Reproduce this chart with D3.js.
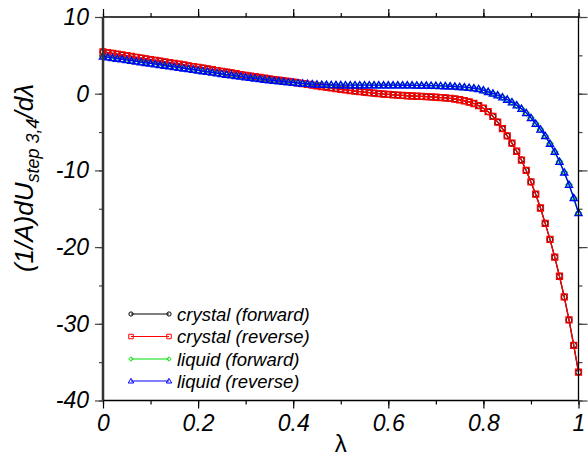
<!DOCTYPE html>
<html><head><meta charset="utf-8">
<script src="https://cdn.jsdelivr.net/npm/d3@7"></script>
<style>body{margin:0;background:#fff}svg{display:block}text{font-family:"Liberation Sans",Arial,sans-serif}</style>
</head><body><svg id="c" width="588" height="460"></svg>
<script>
const lambda = [0,0.01,0.02,0.03,0.04,0.05,0.06,0.07,0.08,0.09,0.1,0.11,0.12,0.13,0.14,0.15,0.16,0.17,0.18,0.19,0.2,0.21,0.22,0.23,0.24,0.25,0.26,0.27,0.28,0.29,0.3,0.31,0.32,0.33,0.34,0.35,0.36,0.37,0.38,0.39,0.4,0.41,0.42,0.43,0.44,0.45,0.46,0.47,0.48,0.49,0.5,0.51,0.52,0.53,0.54,0.55,0.56,0.57,0.58,0.59,0.6,0.61,0.62,0.63,0.64,0.65,0.66,0.67,0.68,0.69,0.7,0.71,0.72,0.73,0.74,0.75,0.76,0.77,0.78,0.79,0.8,0.81,0.82,0.83,0.84,0.85,0.86,0.87,0.88,0.89,0.9,0.91,0.92,0.93,0.94,0.95,0.96,0.97,0.98,0.99,1];
const crystalForward = [5.46,5.36,5.26,5.16,5.06,4.96,4.86,4.75,4.65,4.55,4.45,4.35,4.25,4.15,4.05,3.95,3.85,3.75,3.65,3.55,3.45,3.35,3.24,3.14,3.03,2.93,2.82,2.72,2.61,2.51,2.41,2.31,2.21,2.11,2.02,1.93,1.84,1.76,1.68,1.60,1.52,1.42,1.32,1.22,1.12,1.03,0.94,0.85,0.76,0.67,0.58,0.50,0.42,0.34,0.27,0.20,0.13,0.07,0.01,-0.05,-0.10,-0.15,-0.19,-0.23,-0.27,-0.30,-0.33,-0.36,-0.39,-0.42,-0.46,-0.50,-0.55,-0.61,-0.69,-0.79,-0.92,-1.08,-1.28,-1.55,-1.90,-2.35,-2.95,-3.70,-4.55,-5.50,-6.45,-7.50,-8.65,-10.0,-11.5,-13.1,-14.9,-16.9,-19.0,-21.3,-23.8,-26.5,-29.5,-32.8,-36.3];
const crystalReverse = [5.45,5.35,5.25,5.15,5.05,4.95,4.85,4.74,4.64,4.54,4.44,4.34,4.24,4.14,4.04,3.94,3.84,3.74,3.64,3.54,3.44,3.34,3.23,3.13,3.02,2.92,2.81,2.71,2.60,2.50,2.40,2.30,2.21,2.11,2.02,1.93,1.84,1.76,1.68,1.60,1.52,1.42,1.32,1.22,1.12,1.03,0.94,0.85,0.76,0.67,0.58,0.50,0.42,0.34,0.27,0.20,0.13,0.07,0.01,-0.05,-0.10,-0.15,-0.19,-0.23,-0.27,-0.30,-0.33,-0.36,-0.39,-0.42,-0.46,-0.50,-0.55,-0.61,-0.69,-0.79,-0.92,-1.08,-1.28,-1.55,-1.90,-2.35,-2.95,-3.70,-4.55,-5.50,-6.45,-7.50,-8.65,-10.0,-11.5,-13.1,-14.9,-16.9,-19.0,-21.3,-23.8,-26.5,-29.5,-32.8,-36.3];
const liquidForward = [4.84,4.75,4.66,4.57,4.48,4.39,4.30,4.21,4.12,4.03,3.94,3.85,3.76,3.67,3.58,3.49,3.40,3.31,3.22,3.13,3.04,2.95,2.86,2.77,2.68,2.59,2.50,2.42,2.33,2.25,2.16,2.08,2.00,1.92,1.84,1.77,1.70,1.63,1.56,1.50,1.44,1.39,1.34,1.30,1.26,1.22,1.19,1.17,1.15,1.14,1.13,1.12,1.12,1.12,1.12,1.12,1.12,1.12,1.12,1.11,1.11,1.11,1.11,1.10,1.10,1.10,1.09,1.08,1.07,1.06,1.04,1.02,1.00,0.97,0.94,0.90,0.85,0.79,0.71,0.62,0.45,0.25,0.03,-0.20,-0.46,-0.76,-1.10,-1.50,-1.95,-2.50,-3.15,-3.90,-4.65,-5.50,-6.50,-7.57,-8.85,-10.25,-11.85,-13.6,-15.55];
const liquidReverse = [4.85,4.76,4.67,4.58,4.49,4.40,4.30,4.21,4.12,4.03,3.94,3.85,3.76,3.67,3.58,3.49,3.40,3.31,3.22,3.13,3.04,2.95,2.86,2.77,2.68,2.59,2.50,2.42,2.33,2.25,2.16,2.08,2.00,1.92,1.84,1.77,1.70,1.63,1.56,1.50,1.44,1.39,1.34,1.30,1.26,1.22,1.19,1.17,1.15,1.14,1.13,1.12,1.12,1.12,1.12,1.12,1.12,1.12,1.12,1.11,1.11,1.11,1.11,1.10,1.10,1.10,1.09,1.08,1.07,1.06,1.04,1.02,1.00,0.97,0.94,0.90,0.85,0.79,0.71,0.62,0.45,0.25,0.03,-0.20,-0.46,-0.76,-1.10,-1.50,-1.95,-2.50,-3.15,-3.90,-4.65,-5.50,-6.50,-7.55,-8.85,-10.25,-11.85,-13.6,-15.55];
const seriesNames = ["crystal (forward)","crystal (reverse)","liquid (forward)","liquid (reverse)"];
const seriesColors = ["#000000","#ff0000","#00dd00","#0000ff"];
const seriesMarkers = ["circle","square","diamond","triangle"];
const xTicks = [0,0.2,0.4,0.6,0.8,1];
const xTickLabels = ["0","0.2","0.4","0.6","0.8","1"];
const yTicks = [10,0,-10,-20,-30,-40];
const yTickLabels = ["10","0","-10","-20","-30","-40"];

const svg = d3.select("#c");
const X0=103, X1=578.5, Y0=17, Y1=400.5;
const x = d3.scaleLinear().domain([0,1]).range([X0,X1]);
const y = d3.scaleLinear().domain([10,-40]).range([Y0,Y1]);
const seriesData = [crystalForward,crystalReverse,liquidForward,liquidReverse];

function markerPath(type,s){
  if(type==="circle") return d3.symbol(d3.symbolCircle, s*s*0.7)();
  if(type==="square") return `M${-s/2},${-s/2}h${s}v${s}h${-s}Z`;
  if(type==="diamond") return `M0,${-s*0.5}L${s*0.5},0L0,${s*0.5}L${-s*0.5},0Z`;
  return `M0,${-s*0.6}L${s*0.6},${s*0.45}L${-s*0.6},${s*0.45}Z`;
}

const plot = svg.append("g");
seriesData.forEach((vals,i)=>{
  const pts = lambda.map((l,j)=>[l,vals[j]]);
  plot.append("path").datum(pts)
    .attr("d", d3.line().x(d=>x(d[0])).y(d=>y(d[1])))
    .attr("fill","none").attr("stroke",seriesColors[i]).attr("stroke-width",1.3);
  plot.append("g").selectAll("path").data(pts).join("path")
    .attr("transform",d=>`translate(${x(d[0])},${y(d[1])})`)
    .attr("d",markerPath(seriesMarkers[i],6))
    .attr("fill","none").attr("stroke",seriesColors[i]).attr("stroke-width",1.3);
});

// axes
const fmtX = d=>xTickLabels[xTicks.indexOf(d)];
const fmtY = d=>yTickLabels[yTicks.indexOf(d)];
const xMinor = d3.range(0,1.0001,0.1);
const yMinor = d3.range(-40,10.0001,5);
function styleAxis(g,col){
  g.select(".domain").remove();
  g.selectAll("line").attr("stroke",col).attr("stroke-width",1.2);
  g.selectAll("text").attr("font-size",23).attr("font-style","italic").attr("fill","#000")
    .attr("font-family","'Liberation Sans', Arial, sans-serif");
}
svg.append("g").attr("transform",`translate(0,${Y1})`)
  .call(d3.axisBottom(x).tickValues(xMinor).tickSize(4).tickFormat(""))
  .call(g=>styleAxis(g,"#000"));
svg.append("g").attr("transform",`translate(0,${Y1})`)
  .call(d3.axisBottom(x).tickValues(xTicks).tickSize(8).tickPadding(6).tickFormat(fmtX))
  .call(g=>styleAxis(g,"#000"));
svg.append("g").attr("transform",`translate(0,${Y0})`)
  .call(d3.axisTop(x).tickValues(xMinor).tickSize(4).tickFormat(""))
  .call(g=>styleAxis(g,"#000"));
svg.append("g").attr("transform",`translate(0,${Y0})`)
  .call(d3.axisTop(x).tickValues(xTicks).tickSize(8).tickFormat(""))
  .call(g=>styleAxis(g,"#000"));
svg.append("g").attr("transform",`translate(${X0},0)`)
  .call(d3.axisLeft(y).tickValues(yMinor).tickSize(4).tickFormat(""))
  .call(g=>styleAxis(g,"#444"));
svg.append("g").attr("transform",`translate(${X0},0)`)
  .call(d3.axisLeft(y).tickValues(yTicks).tickSize(8).tickPadding(6).tickFormat(fmtY))
  .call(g=>styleAxis(g,"#444"));
svg.append("g").attr("transform",`translate(${X1},0)`)
  .call(d3.axisRight(y).tickValues(yMinor).tickSize(4).tickFormat(""))
  .call(g=>styleAxis(g,"#444"));
svg.append("g").attr("transform",`translate(${X1},0)`)
  .call(d3.axisRight(y).tickValues(yTicks).tickSize(9).tickFormat(""))
  .call(g=>styleAxis(g,"#444"));

// frame
svg.append("line").attr("x1",X0).attr("x2",X1).attr("y1",Y0).attr("y2",Y0).attr("stroke","#000").attr("stroke-width",1.3);
svg.append("line").attr("x1",X0).attr("x2",X1).attr("y1",Y1).attr("y2",Y1).attr("stroke","#000").attr("stroke-width",1.3);
svg.append("line").attr("x1",X1).attr("x2",X1).attr("y1",Y0).attr("y2",Y1).attr("stroke","#000").attr("stroke-width",1.3);
svg.append("line").attr("x1",X0).attr("x2",X0).attr("y1",Y0).attr("y2",Y1).attr("stroke","#333").attr("stroke-width",2.5);

// axis titles
svg.append("text").attr("x",(X0+X1)/2).attr("y",452).attr("text-anchor","middle").attr("font-size",24).text("λ");
const yt = svg.append("text").attr("transform","translate(33,178) rotate(-90)").attr("text-anchor","middle")
  .attr("font-size",26).attr("font-style","italic");
yt.append("tspan").text("(1/A)dU");
yt.append("tspan").attr("font-size",18).attr("dy",6).text("step 3,4");
yt.append("tspan").attr("dy",-6).text("/dλ");

// legend
const legY = [314,336.5,359,381];
seriesNames.forEach((n,i)=>{
  const g = svg.append("g").attr("transform",`translate(0,${legY[i]})`);
  g.append("line").attr("x1",131).attr("x2",169).attr("stroke",seriesColors[i]).attr("stroke-width",1);
  [131,169].forEach(px=>g.append("path").attr("transform",`translate(${px},0)`)
    .attr("d",markerPath(seriesMarkers[i],4.5)).attr("fill","none").attr("stroke",seriesColors[i]).attr("stroke-width",1));
  g.append("text").attr("x",177).attr("y",6.5).attr("font-size",18.5).attr("font-style","italic").text(n);
});
</script></body></html>
